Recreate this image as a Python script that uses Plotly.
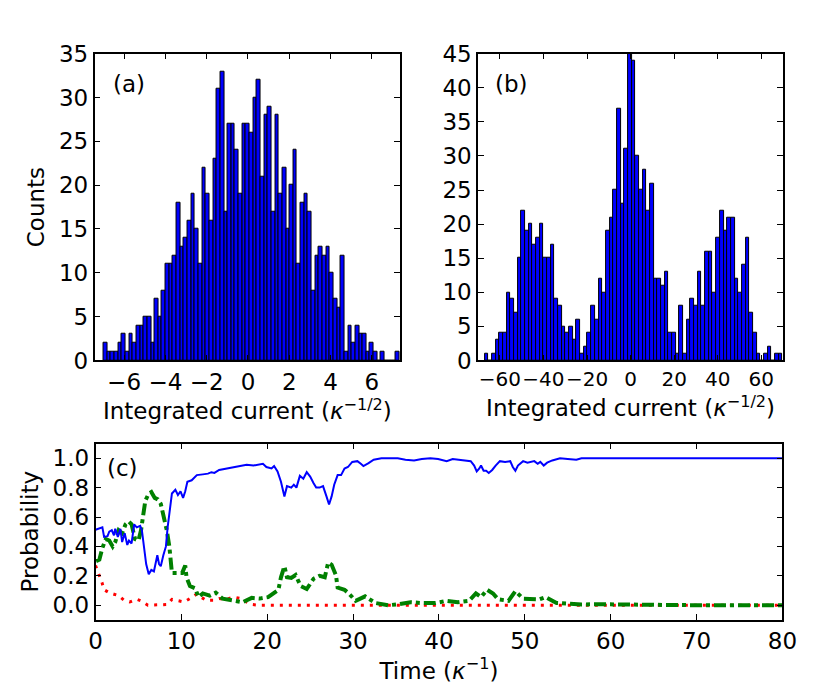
import numpy as np
import plotly.graph_objects as go

# ---------------- data ----------------
# panel (a): histogram counts, 81 equal bins
counts_a = [2, 1, 1, 1, 2, 3, 1, 3, 2, 4, 4, 5, 5, 2, 7, 5, 8, 11, 11, 12,
            18, 13, 14, 16, 19, 15, 11, 22, 19, 16, 23, 31, 33, 17, 27, 27, 24, 19, 27, 27,
            26, 30, 32, 21, 28, 29, 17, 28, 19, 22, 15, 20, 24, 11, 18, 19, 17, 8, 12, 13,
            12, 13, 10, 7, 6, 12, 1, 4, 2, 4, 3, 3, 1, 2, 1, 0, 1, 0, 0, 0, 1]
edge_range_a = (-6.99, 7.32)

# panel (b): histogram counts, 81 equal bins
counts_b = [1, 0, 1, 3, 4, 4, 10, 9, 7, 15, 22, 19, 20, 17, 18, 20, 15, 15, 17, 9,
            8, 5, 4, 5, 3, 6, 1, 2, 4, 8, 6, 12, 10, 19, 21, 25, 37, 23, 31, 45,
            44, 30, 25, 28, 22, 26, 12, 12, 11, 13, 4, 4, 1, 8, 1, 6, 9, 8, 13, 8,
            16, 16, 10, 18, 22, 19, 21, 21, 12, 10, 14, 18, 7, 4, 1, 0, 1, 2, 0, 1, 1]
edge_range_b = (-67.0, 69.7)

# panel (c): probability traces (time, probability)
blue_curve = [(0, 0.513), (0.45, 0.52), (0.8, 0.53), (1.0, 0.465), (1.4, 0.47), (1.6, 0.50),
              (1.9, 0.51), (2.15, 0.475), (2.3, 0.52), (2.6, 0.465), (2.9, 0.52), (3.1, 0.43),
              (3.4, 0.49), (3.7, 0.41), (3.9, 0.44), (4.2, 0.42), (4.5, 0.55), (4.8, 0.53),
              (5.2, 0.54), (5.4, 0.51), (5.7, 0.38), (5.9, 0.28), (6.2, 0.21), (6.5, 0.24),
              (6.8, 0.23), (7.1, 0.31), (7.2, 0.34), (7.4, 0.28), (7.6, 0.265), (7.9, 0.34),
              (8.2, 0.40), (8.4, 0.53), (8.6, 0.64), (8.9, 0.76), (9.3, 0.785), (9.6, 0.75),
              (9.9, 0.775), (10.2, 0.73), (10.45, 0.775), (10.7, 0.84), (11.2, 0.85), (11.8, 0.885),
              (12.5, 0.89), (13.1, 0.895), (13.5, 0.905), (13.85, 0.90), (14.4, 0.92), (15.4, 0.93),
              (16.3, 0.94), (17.1, 0.947), (17.6, 0.956), (18.4, 0.95), (19.1, 0.958), (19.5, 0.962),
              (19.9, 0.94), (20.5, 0.93), (20.8, 0.947), (21.2, 0.91), (21.6, 0.84), (22.0, 0.74),
              (22.3, 0.81), (22.8, 0.80), (23.1, 0.82), (23.4, 0.80), (23.8, 0.88), (24.2, 0.86),
              (24.6, 0.905), (25.0, 0.875), (25.4, 0.83), (25.7, 0.80), (26.1, 0.80), (26.5, 0.81),
              (26.9, 0.74), (27.2, 0.685), (27.5, 0.74), (27.8, 0.82), (28.2, 0.885), (28.6, 0.885),
              (29.0, 0.93), (29.4, 0.94), (29.9, 0.975), (30.5, 0.98), (30.9, 0.962), (31.2, 0.947),
              (31.8, 0.967), (32.4, 0.99), (33.3, 1.0), (34.3, 1.0), (35.2, 1.0), (36.1, 0.99),
              (37.1, 0.985), (38.0, 0.995), (39.0, 1.0), (39.9, 0.995), (40.5, 0.985), (40.9, 0.98),
              (41.6, 0.995), (42.6, 0.99), (43.2, 0.985), (43.7, 0.98), (44.1, 0.95), (44.4, 0.91),
              (44.7, 0.93), (44.9, 0.95), (45.2, 0.915), (45.5, 0.915), (45.8, 0.90), (46.2, 0.92),
              (46.6, 0.95), (47.1, 0.98), (47.7, 0.975), (48.3, 0.98), (48.6, 0.94), (48.9, 0.915),
              (49.2, 0.95), (49.8, 0.98), (50.3, 0.97), (50.7, 0.975), (51.1, 0.98), (51.5, 0.962),
              (51.8, 0.975), (52.2, 0.95), (52.6, 0.97), (53.2, 0.985), (54.1, 1.0), (55.0, 0.995),
              (56.0, 0.99), (56.6, 1.0), (57.7, 1.0), (59.2, 1.0), (60.0, 1.0), (61.5, 1.0),
              (70, 1.0), (80, 1.0)]

green_curve = [(0.07, 0.30), (0.45, 0.31), (0.8, 0.39), (1.2, 0.45), (1.6, 0.44), (2.0, 0.40),
               (2.3, 0.43), (2.7, 0.51), (3.1, 0.49), (3.5, 0.55), (3.85, 0.57), (4.2, 0.55),
               (4.6, 0.45), (5.0, 0.44), (5.3, 0.51), (5.5, 0.61), (5.8, 0.71), (6.2, 0.76),
               (6.5, 0.77), (6.9, 0.73), (7.25, 0.72), (7.6, 0.69), (8.0, 0.60), (8.3, 0.51),
               (8.6, 0.40), (8.75, 0.31), (8.9, 0.22), (9.5, 0.22), (10.1, 0.22), (10.45, 0.27),
               (10.6, 0.19), (11.0, 0.13), (11.6, 0.115), (12.0, 0.055), (12.5, 0.08), (13.3, 0.065),
               (14.0, 0.085), (14.8, 0.045), (15.9, 0.035), (17.1, 0.02), (18.2, 0.05), (19.1, 0.045),
               (20.1, 0.055), (20.8, 0.085), (21.3, 0.105), (21.6, 0.19), (22.0, 0.265), (22.3, 0.19),
               (22.8, 0.185), (23.3, 0.205), (23.9, 0.13), (24.6, 0.11), (25.4, 0.18), (26.1, 0.20),
               (26.7, 0.19), (27.1, 0.29), (27.5, 0.275), (28.0, 0.205), (28.2, 0.12), (29.0, 0.105),
               (29.5, 0.08), (30.3, 0.03), (31.4, 0.06), (32.6, 0.015), (34.1, 0.0), (35.4, 0.007),
               (36.7, 0.02), (38.0, 0.015), (39.6, 0.015), (40.9, 0.03), (42.2, 0.02), (43.5, 0.03),
               (44.3, 0.08), (44.9, 0.055), (45.6, 0.105), (46.3, 0.08), (46.9, 0.04), (48.1, 0.03),
               (48.9, 0.095), (49.8, 0.045), (50.7, 0.04), (51.7, 0.04), (52.4, 0.055), (53.7, 0.015),
               (55.2, 0.01), (56.6, 0.005), (58.1, 0.007), (59.6, 0.007), (61.1, 0.005), (70, 0.0),
               (80, 0.0)]

red_curve = [(0, 0.27), (0.45, 0.205), (0.75, 0.155), (1.0, 0.105), (1.6, 0.085), (2.15, 0.075),
             (2.7, 0.065), (3.3, 0.035), (4.0, 0.022), (4.8, 0.04), (5.4, 0.027), (6.1, 0.0),
             (7.2, 0.0), (8.4, 0.005), (8.9, 0.04), (9.5, 0.033), (10.3, 0.022), (11.0, 0.045),
             (11.8, 0.077), (12.3, 0.055), (12.9, 0.033), (13.7, 0.033), (14.4, 0.045), (15.2, 0.04),
             (16.1, 0.055), (16.9, 0.045), (17.4, 0.027), (18.2, 0.005), (19.0, 0.0), (80, 0.0)]

xticks_a = [-6, -4, -2, 0, 2, 4, 6]
yticks_a = [0, 5, 10, 15, 20, 25, 30, 35]
xticks_b = [-60, -40, -20, 0, 20, 40, 60]
yticks_b = [0, 5, 10, 15, 20, 25, 30, 35, 40, 45]
xticks_c = [0, 10, 20, 30, 40, 50, 60, 70, 80]
yticks_c = [0.0, 0.2, 0.4, 0.6, 0.8, 1.0]

# ---------------- figure ----------------
W, H = 830, 692
FONT = "DejaVu Sans"
FS = 23


def hist_trace(counts, erange, xa, ya):
    edges = np.linspace(erange[0], erange[1], len(counts) + 1)
    centers = 0.5 * (edges[:-1] + edges[1:])
    width = edges[1] - edges[0]
    return go.Bar(x=centers, y=counts, width=width, xaxis=xa, yaxis=ya,
                  marker=dict(color="#0000ff", line=dict(color="black", width=1)),
                  showlegend=False, hoverinfo="skip")


def line_trace(curve, color, width, dash, xa, ya):
    t, p = zip(*curve)
    return go.Scatter(x=list(t), y=list(p), mode="lines", xaxis=xa, yaxis=ya,
                      line=dict(color=color, width=width, dash=dash),
                      showlegend=False, hoverinfo="skip")


fig = go.Figure()
fig.add_trace(hist_trace(counts_a, edge_range_a, "x", "y"))
fig.add_trace(hist_trace(counts_b, edge_range_b, "x2", "y2"))
fig.add_trace(line_trace(red_curve, "#ff0000", 3, "3px,6px", "x3", "y3"))
fig.add_trace(line_trace(green_curve, "#008000", 4, "dashdot", "x3", "y3"))
fig.add_trace(line_trace(blue_curve, "#0000ff", 2, "solid", "x3", "y3"))


def ax(fs=FS, **kw):
    base = dict(showline=True, linecolor="black", linewidth=1.5, mirror="allticks",
                ticks="inside", ticklen=6, tickwidth=1, tickcolor="black",
                showgrid=False, zeroline=False, tickangle=0,
                tickfont=dict(family=FONT, size=fs, color="black"))
    base.update(kw)
    return base


def px_x(a, b):
    return [a / W, b / W]


def px_y(top, bottom):
    return [1 - bottom / H, 1 - top / H]


title_font = dict(family=FONT, size=FS, color="black")

fig.update_layout(
    width=W, height=H,
    margin=dict(l=0, r=0, t=0, b=0),
    paper_bgcolor="white", plot_bgcolor="white",
    bargap=0,
    font=dict(family=FONT, size=FS, color="black"),
    xaxis=ax(domain=px_x(81.7, 395.7), range=[-7.43, 7.37], tickvals=xticks_a,
             title=dict(text="Integrated current (<i>κ</i><sup>−1/2</sup>)", font=title_font, standoff=8),
             anchor="y"),
    yaxis=ax(domain=px_y(34, 352.7), range=[0, 35], tickvals=yticks_a,
             title=dict(text="Counts", font=title_font, standoff=8), anchor="x"),
    xaxis2=ax(fs=20, domain=px_x(475.7, 789), range=[-70, 70], tickvals=xticks_b,
              title=dict(text="Integrated current (<i>κ</i><sup>−1/2</sup>)", font=title_font, standoff=10),
              anchor="y2"),
    yaxis2=ax(domain=px_y(34, 352.7), range=[0, 45], tickvals=yticks_b, anchor="x2"),
    xaxis3=ax(domain=px_x(82.7, 788.3), range=[0, 80], tickvals=xticks_c,
              title=dict(text="Time (<i>κ</i><sup>−1</sup>)", font=title_font, standoff=8),
              anchor="y3"),
    yaxis3=ax(domain=px_y(439, 622.3), range=[-0.1, 1.1], tickvals=yticks_c, tickformat=".1f",
              title=dict(text="Probability", font=title_font, standoff=8), anchor="x3"),
)

for lab, xr, yr, xx, yy in [("(a)", "x domain", "y domain", 0.055, 0.90),
                            ("(b)", "x2 domain", "y2 domain", 0.05, 0.90),
                            ("(c)", "x3 domain", "y3 domain", 0.014, 0.86)]:
    fig.add_annotation(text=lab, xref=xr, yref=yr, x=xx, y=yy,
                       xanchor="left", yanchor="middle", showarrow=False,
                       font=dict(family=FONT, size=FS, color="black"))

fig.write_html("out.html")
